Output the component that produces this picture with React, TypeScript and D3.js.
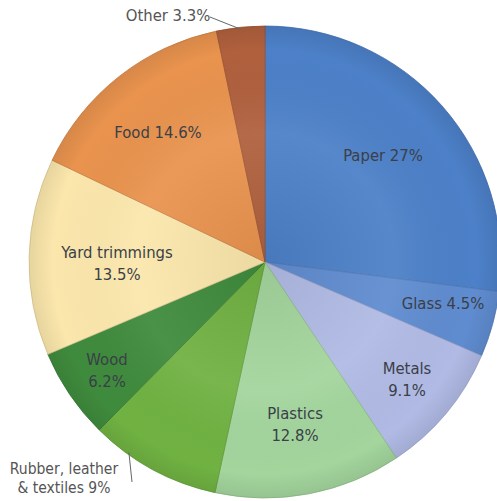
import React from "react";
import * as d3 from "d3";

const categories = ["Paper", "Glass", "Metals", "Plastics", "Rubber, leather & textiles", "Wood", "Yard trimmings", "Food", "Other"];
const values = [27, 4.5, 9.1, 12.8, 9, 6.2, 13.5, 14.6, 3.3];
const labelLines = [
  ["Paper 27%"],
  ["Glass 4.5%"],
  ["Metals", "9.1%"],
  ["Plastics", "12.8%"],
  ["Rubber, leather", "& textiles 9%"],
  ["Wood", "6.2%"],
  ["Yard trimmings", "13.5%"],
  ["Food 14.6%"],
  ["Other 3.3%"],
];
const colors = ["#4c80c8", "#5f8cd0", "#b0bae4", "#a3d59d", "#70b242", "#3f8b3d", "#fbe7ac", "#e9934e", "#b0603d"];

const W = 497;
const H = 501;
const cx = 265;
const cy = 262;
const R = 236;

const labelPos: { x: number; y: number }[] = [
  { x: 383, y: 155 },
  { x: 443, y: 303 },
  { x: 407, y: 368 },
  { x: 295, y: 413 },
  { x: 64, y: 469 },
  { x: 107, y: 359 },
  { x: 117, y: 252 },
  { x: 158, y: 132 },
  { x: 168, y: 15 },
];

export default function App() {
  const pie = d3.pie<number>().sort(null).value((d) => d);
  const arcs = pie(values);
  const arc = d3.arc<d3.PieArcDatum<number>>().innerRadius(0).outerRadius(R);

  const otherArc = arcs[8];
  const otherMid = (otherArc.startAngle + otherArc.endAngle) / 2;
  const rubberArc = arcs[4];
  const rubberAng = rubberArc.startAngle + (rubberArc.endAngle - rubberArc.startAngle) * 0.72;

  return (
    <svg width={W} height={H} style={{ position: "absolute", left: 0, top: 0 }}>
      <defs>
        <radialGradient id="shade" cx={cx} cy={cy} r={R} gradientUnits="userSpaceOnUse">
          <stop offset="0%" stopColor="#000" stopOpacity={0.06} />
          <stop offset="55%" stopColor="#fff" stopOpacity={0.06} />
          <stop offset="90%" stopColor="#000" stopOpacity={0.0} />
          <stop offset="100%" stopColor="#000" stopOpacity={0.08} />
        </radialGradient>
      </defs>
      <rect width={W} height={H} fill="#fff" />
      <g transform={`translate(${cx},${cy})`}>
        {arcs.map((a, i) => (
          <path key={categories[i]} d={arc(a) || ""} fill={colors[i]} stroke={d3.color(colors[i])!.darker(0.4).toString()} strokeWidth={0.8} />
        ))}
      </g>
      <circle r={R} cx={cx} cy={cy} fill="url(#shade)" />
      <line
        x1={210}
        y1={17}
        x2={cx + Math.sin(otherMid) * (R - 2)}
        y2={cy - Math.cos(otherMid) * (R - 2)}
        stroke="#666"
        strokeWidth={1}
      />
      <line
        x1={132}
        y1={482}
        x2={cx + Math.sin(rubberAng) * (R - 2)}
        y2={cy - Math.cos(rubberAng) * (R - 2)}
        stroke="#666"
        strokeWidth={1}
      />
      {labelLines.map((lines, i) => (
        <text
          key={categories[i]}
          x={labelPos[i].x}
          y={labelPos[i].y}
          textAnchor="middle"
          dominantBaseline="central"
          fontFamily="'DejaVu Sans', sans-serif"
          style={{ fontStretch: "condensed" }}
          fontSize={i === 4 ? 15.5 : 16.5}
          fill={i === 4 || i === 8 ? "#555" : "#3a3f48"}
        >
          {lines.map((l, j) => (
            <tspan key={j} x={labelPos[i].x} dy={j === 0 ? 0 : i === 4 ? 19 : 22}>
              {l}
            </tspan>
          ))}
        </text>
      ))}
    </svg>
  );
}
